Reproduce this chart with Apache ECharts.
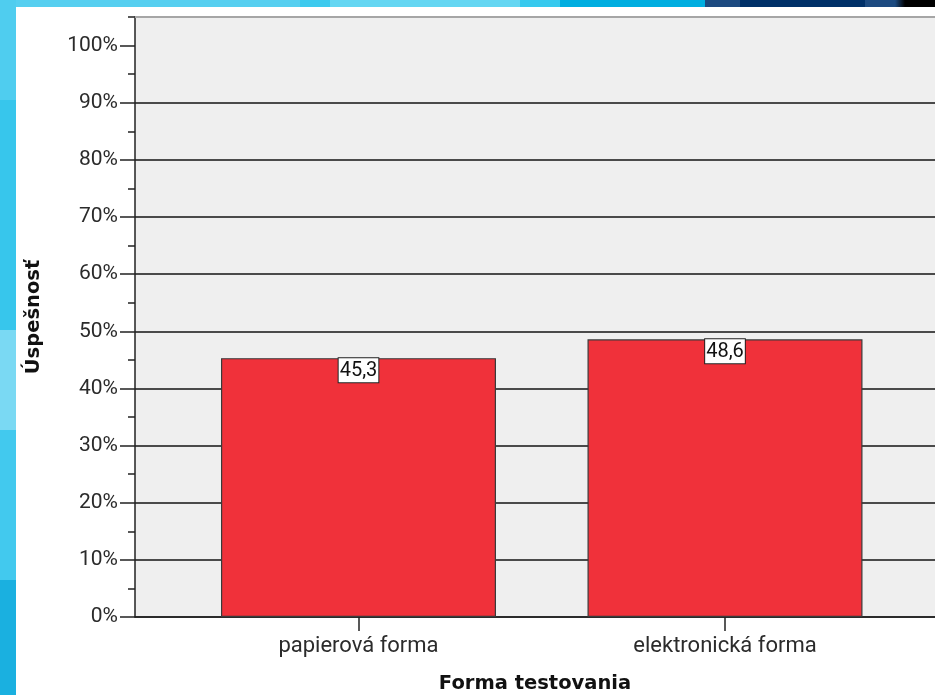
<!DOCTYPE html>
<html>
<head>
<meta charset="utf-8">
<script src="https://cdn.jsdelivr.net/npm/echarts@6/dist/echarts.min.js"></script>
<style>
  html, body { margin: 0; padding: 0; width: 935px; height: 695px; overflow: hidden; }
  body { position: relative;
    background: linear-gradient(90deg, #56cff0 0, #56cff0 300px, #3ccaee 300px, #3ccaee 330px, #64d6f2 330px, #64d6f2 520px, #36c9ee 520px, #36c9ee 560px, #00aee0 560px, #00aee0 705px, #1c4a80 705px, #1c4a80 740px, #003068 740px, #003068 865px, #1c4a80 865px, #1c4a80 895px, #000 905px); }
  #left { position: absolute; left: 0; top: 0; width: 16px; height: 695px;
    background: linear-gradient(180deg, #4fcdef 0, #4fcdef 100px, #37c6ec 100px, #37c6ec 330px, #7ad9f3 330px, #7ad9f3 430px, #42c9ee 430px, #42c9ee 580px, #1ab0e0 580px); }
  #panel { position: absolute; left: 16px; top: 7px; right: 0; bottom: 0; background: #ffffff; }
  #chart { position: absolute; left: 0; top: 0; width: 935px; height: 695px; }
</style>
</head>
<body>
<div id="left"></div>
<div id="panel"></div>
<div id="chart"></div>
<script>
// ---- data ----
const categories = ['papierová forma', 'elektronická forma'];
const values = [45.3, 48.6];
const yTickValues = [0, 10, 20, 30, 40, 50, 60, 70, 80, 90, 100];
const yAxisTitle = 'Úspešnosť';
const xAxisTitle = 'Forma testovania';

const chart = echarts.init(document.getElementById('chart'), null, { renderer: 'canvas' });
const catIdx = categories.map((c, i) => i);
const textCol = '#2b2b2b';
const labelFont = 'Roboto';

const option = {
  backgroundColor: 'transparent',
  animation: false,
  grid: { left: 135, right: 0, top: 17, bottom: 78, show: true, backgroundColor: '#efefef', borderWidth: 0,
          containLabel: false, outerBoundsMode: 'none' },
  xAxis: [
    {
      type: 'value', position: 'bottom',
      min: -0.6098, max: 1.573,
      axisLine: { show: true, onZero: false, lineStyle: { color: '#222', width: 1.5 } },
      axisTick: { show: true, customValues: catIdx, length: 14, lineStyle: { color: '#222', width: 1.5 } },
      axisLabel: { show: true, customValues: catIdx, formatter: v => categories[Math.round(v)] || '',
        color: textCol, fontFamily: labelFont, fontSize: 22, margin: 18 },
      splitLine: { show: false },
      name: xAxisTitle, nameLocation: 'middle', nameGap: 57,
      nameTextStyle: { fontFamily: 'DejaVu Sans', fontWeight: 'bold', fontSize: 19.5, color: '#111' }
    },
    {
      type: 'value', position: 'top',
      min: -0.6098, max: 1.573,
      axisLine: { show: true, onZero: false, lineStyle: { color: '#a6a6a6', width: 2 } },
      axisTick: { show: false }, axisLabel: { show: false }, splitLine: { show: false }
    }
  ],
  yAxis: [
    {
      type: 'value', position: 'left',
      min: 0, max: 105, interval: 10,
      axisLine: { show: true, onZero: false, lineStyle: { color: '#222', width: 1.5 } },
      axisTick: { show: true, customValues: yTickValues, length: 15, lineStyle: { color: '#222', width: 1.5 } },
      axisLabel: { show: true, customValues: yTickValues, formatter: v => v + '%',
        color: textCol, fontFamily: labelFont, fontSize: 21, margin: 17 },
      splitLine: { show: true, showMaxLine: false, lineStyle: { color: '#4a4a4a', width: 1.8 } },
      name: yAxisTitle, nameLocation: 'middle', nameGap: 91, nameRotate: 90,
      nameTextStyle: { fontFamily: 'DejaVu Sans', fontWeight: 'bold', fontSize: 19.5, color: '#111' }
    },
    {
      type: 'value', position: 'left',
      min: 0, max: 105, interval: 5,
      axisLine: { show: false, onZero: false },
      axisTick: { show: true, length: 7, lineStyle: { color: '#222', width: 1.5 } },
      axisLabel: { show: false }, splitLine: { show: false }
    }
  ],
  series: [{
    type: 'bar',
    xAxisIndex: 0, yAxisIndex: 0,
    barWidth: 275,
    data: values.map((v, i) => [i, v]),
    itemStyle: { color: '#f0313a', borderColor: '#3a3a3a', borderWidth: 1.2 },
    label: {
      show: true, position: 'insideTop', distance: 0,
      formatter: p => String(p.value[1]).replace('.', ','),
      color: '#111', fontFamily: labelFont, fontSize: 20, lineHeight: 21,
      backgroundColor: '#ffffff', borderColor: '#222', borderWidth: 1, padding: [2, 1, 1, 1]
    }
  }]
};
chart.setOption(option);
</script>
</body>
</html>
